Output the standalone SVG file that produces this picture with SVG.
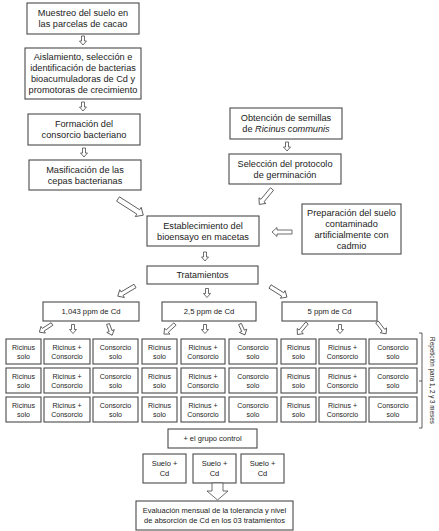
<svg xmlns="http://www.w3.org/2000/svg" xmlns:xlink="http://www.w3.org/1999/xlink" width="439" height="531" viewBox="0 0 439 531">
<style>
.bx{fill:#fff;stroke:#4a4a4a;stroke-width:1.1}
.t{font-family:"Liberation Sans",Arial,sans-serif;fill:#222;text-anchor:middle}
.m{font-size:9.2px}
.s{font-size:7px}
.p{font-size:7.7px}
.c{font-size:7.5px}
.ar{fill:#fff;stroke:#4a4a4a;stroke-width:0.8;stroke-linejoin:miter}
</style>
<defs>
<polygon id="a9" class="ar" points="0,-1.5 5,-1.5 5,-3.5 9,0 5,3.5 5,1.5 0,1.5"/>
<polygon id="a12" class="ar" points="0,-1.5 7.5,-1.5 7.5,-4 12,0 7.5,4 7.5,1.5 0,1.5"/>
<polygon id="a15" class="ar" points="0,-1.6 10.5,-1.6 10.5,-4 15,0 10.5,4 10.5,1.6 0,1.6"/>
<polygon id="a20" class="ar" points="0,-2 15,-2 15,-4.5 20,0 15,4.5 15,2 0,2"/>
<polygon id="a30" class="ar" points="0,-2.6 24,-2.6 24,-5.5 30,0 24,5.5 24,2.6 0,2.6"/>
</defs>

<g id="n1"><rect class="bx" x="27" y="3" width="112" height="31"/>
<text class="t m" x="83" y="16.2">Muestreo del suelo en</text><text class="t m" x="83" y="27.2">las parcelas de cacao</text></g>
<g id="n2"><rect class="bx" x="25" y="48" width="116" height="51"/>
<text class="t m" x="83" y="60.2">Aislamiento, selección e</text><text class="t m" x="83" y="71.2">identificación de bacterias</text><text class="t m" x="83" y="82.2">bioacumuladoras de Cd y</text><text class="t m" x="83" y="93.2">promotoras de crecimiento</text></g>
<g id="n3"><rect class="bx" x="28" y="114" width="112" height="31"/>
<text class="t m" x="84" y="127.2">Formación del</text><text class="t m" x="84" y="138.2">consorcio bacteriano</text></g>
<g id="n4"><rect class="bx" x="29" y="160" width="112" height="30"/>
<text class="t m" x="85" y="172.7">Masificación de las</text><text class="t m" x="85" y="183.7">cepas bacterianas</text></g>
<g id="n5"><rect class="bx" x="230" y="108" width="112" height="31"/>
<text class="t m" x="286" y="121.2">Obtención de semillas</text><text class="t m" x="286" y="132.2">de <tspan font-style="italic">Ricinus communis</tspan></text></g>
<g id="n6"><rect class="bx" x="229" y="154" width="112" height="30"/>
<text class="t m" x="285" y="166.7">Selección del protocolo</text><text class="t m" x="285" y="177.7">de germinación</text></g>
<g id="n7"><rect class="bx" x="147" y="216" width="112" height="30"/>
<text class="t m" x="203" y="228.7">Establecimiento del</text><text class="t m" x="203" y="239.7">bioensayo en macetas</text></g>
<g id="n8"><rect class="bx" x="302" y="204" width="99" height="50"/>
<text class="t m" x="351.5" y="215.7">Preparación del suelo</text><text class="t m" x="351.5" y="226.7">contaminado</text><text class="t m" x="351.5" y="237.7">artificialmente con</text><text class="t m" x="351.5" y="248.7">cadmio</text></g>
<g id="n9"><rect class="bx" x="147" y="266" width="111" height="18"/>
<text class="t" font-size="9" x="202.5" y="278.2">Tratamientos</text></g>
<g id="p1"><rect class="bx" x="43" y="302" width="96" height="19"/><text class="t p" x="91" y="314.2">1,043 ppm de Cd</text></g>
<g id="p2"><rect class="bx" x="162" y="302" width="94" height="19"/><text class="t p" x="209" y="314.2">2,5 ppm de Cd</text></g>
<g id="p3"><rect class="bx" x="282" y="302" width="95" height="19"/><text class="t p" x="329.5" y="314.2">5 ppm de Cd</text></g>

<g id="grid">
<g id="r1">
<rect class="bx" x="6" y="339" width="35" height="25"/><text class="t s" x="23.5" y="349.5">Ricinus</text><text class="t s" x="23.5" y="358.5">solo</text>
<rect class="bx" x="44" y="339" width="46" height="25"/><text class="t s" x="67" y="349.5">Ricinus +</text><text class="t s" x="67" y="358.5">Consorcio</text>
<rect class="bx" x="93" y="339" width="45" height="25"/><text class="t s" x="115.5" y="349.5">Consorcio</text><text class="t s" x="115.5" y="358.5">solo</text>
<rect class="bx" x="142" y="339" width="35" height="25"/><text class="t s" x="159.5" y="349.5">Ricinus</text><text class="t s" x="159.5" y="358.5">solo</text>
<rect class="bx" x="181" y="339" width="44" height="25"/><text class="t s" x="203" y="349.5">Ricinus +</text><text class="t s" x="203" y="358.5">Consorcio</text>
<rect class="bx" x="229" y="339" width="48" height="25"/><text class="t s" x="253" y="349.5">Consorcio</text><text class="t s" x="253" y="358.5">solo</text>
<rect class="bx" x="281" y="339" width="35" height="25"/><text class="t s" x="298.5" y="349.5">Ricinus</text><text class="t s" x="298.5" y="358.5">solo</text>
<rect class="bx" x="319" y="339" width="47" height="25"/><text class="t s" x="342.5" y="349.5">Ricinus +</text><text class="t s" x="342.5" y="358.5">Consorcio</text>
<rect class="bx" x="369" y="339" width="48" height="25"/><text class="t s" x="393" y="349.5">Consorcio</text><text class="t s" x="393" y="358.5">solo</text>
</g>
<g id="r2">
<rect class="bx" x="6" y="368" width="35" height="25"/><text class="t s" x="23.5" y="378.5">Ricinus</text><text class="t s" x="23.5" y="387.5">solo</text>
<rect class="bx" x="44" y="368" width="46" height="25"/><text class="t s" x="67" y="378.5">Ricinus +</text><text class="t s" x="67" y="387.5">Consorcio</text>
<rect class="bx" x="93" y="368" width="45" height="25"/><text class="t s" x="115.5" y="378.5">Consorcio</text><text class="t s" x="115.5" y="387.5">solo</text>
<rect class="bx" x="142" y="368" width="35" height="25"/><text class="t s" x="159.5" y="378.5">Ricinus</text><text class="t s" x="159.5" y="387.5">solo</text>
<rect class="bx" x="181" y="368" width="44" height="25"/><text class="t s" x="203" y="378.5">Ricinus +</text><text class="t s" x="203" y="387.5">Consorcio</text>
<rect class="bx" x="229" y="368" width="48" height="25"/><text class="t s" x="253" y="378.5">Consorcio</text><text class="t s" x="253" y="387.5">solo</text>
<rect class="bx" x="281" y="368" width="35" height="25"/><text class="t s" x="298.5" y="378.5">Ricinus</text><text class="t s" x="298.5" y="387.5">solo</text>
<rect class="bx" x="319" y="368" width="47" height="25"/><text class="t s" x="342.5" y="378.5">Ricinus +</text><text class="t s" x="342.5" y="387.5">Consorcio</text>
<rect class="bx" x="369" y="368" width="48" height="25"/><text class="t s" x="393" y="378.5">Consorcio</text><text class="t s" x="393" y="387.5">solo</text>
</g>
<g id="r3">
<rect class="bx" x="6" y="397" width="35" height="25"/><text class="t s" x="23.5" y="407.5">Ricinus</text><text class="t s" x="23.5" y="416.5">solo</text>
<rect class="bx" x="44" y="397" width="46" height="25"/><text class="t s" x="67" y="407.5">Ricinus +</text><text class="t s" x="67" y="416.5">Consorcio</text>
<rect class="bx" x="93" y="397" width="45" height="25"/><text class="t s" x="115.5" y="407.5">Consorcio</text><text class="t s" x="115.5" y="416.5">solo</text>
<rect class="bx" x="142" y="397" width="35" height="25"/><text class="t s" x="159.5" y="407.5">Ricinus</text><text class="t s" x="159.5" y="416.5">solo</text>
<rect class="bx" x="181" y="397" width="44" height="25"/><text class="t s" x="203" y="407.5">Ricinus +</text><text class="t s" x="203" y="416.5">Consorcio</text>
<rect class="bx" x="229" y="397" width="48" height="25"/><text class="t s" x="253" y="407.5">Consorcio</text><text class="t s" x="253" y="416.5">solo</text>
<rect class="bx" x="281" y="397" width="35" height="25"/><text class="t s" x="298.5" y="407.5">Ricinus</text><text class="t s" x="298.5" y="416.5">solo</text>
<rect class="bx" x="319" y="397" width="47" height="25"/><text class="t s" x="342.5" y="407.5">Ricinus +</text><text class="t s" x="342.5" y="416.5">Consorcio</text>
<rect class="bx" x="369" y="397" width="48" height="25"/><text class="t s" x="393" y="407.5">Consorcio</text><text class="t s" x="393" y="416.5">solo</text>
</g>
</g>

<g id="rep">
<path d="M419,333 H422 V428 H419 M422,381 H419" fill="none" stroke="#4a4a4a" stroke-width="0.9"/>
<text class="t" font-size="6.3" transform="translate(430,380.5) rotate(90)">Repetición para 1, 2 y 3 meses</text>
</g>

<g id="ctl"><rect class="bx" x="168" y="429" width="89" height="19"/><text class="t c" x="212.5" y="441.1">+ el grupo control</text></g>
<g id="s1"><rect class="bx" x="143" y="454" width="43" height="29"/><text class="t c" x="164.5" y="466.1">Suelo +</text><text class="t c" x="164.5" y="476.1">Cd</text></g>
<g id="s2"><rect class="bx" x="193" y="454" width="43" height="29"/><text class="t c" x="214.5" y="466.1">Suelo +</text><text class="t c" x="214.5" y="476.1">Cd</text></g>
<g id="s3"><rect class="bx" x="241" y="454" width="43" height="29"/><text class="t c" x="262.5" y="466.1">Suelo +</text><text class="t c" x="262.5" y="476.1">Cd</text></g>
<g id="ev"><rect class="bx" x="136" y="501" width="157" height="29"/><text class="t c" x="214.5" y="513.1">Evaluación mensual de la tolerancia y nivel</text><text class="t c" x="214.5" y="523.1">de absorción de Cd en los 03 tratamientos</text></g>

<g id="connectors">
<use xlink:href="#a9" transform="translate(83,36) rotate(90)"/>
<use xlink:href="#a9" transform="translate(83,102) rotate(90)"/>
<use xlink:href="#a9" transform="translate(84,148) rotate(90)"/>
<use xlink:href="#a9" transform="translate(287,142) rotate(90)"/>
<use xlink:href="#a30" transform="translate(118,199) rotate(32.6)"/>
<use xlink:href="#a20" transform="translate(272,189) rotate(129.5)"/>
<use xlink:href="#a20" transform="translate(292,232) rotate(180)"/>
<use xlink:href="#a9" transform="translate(205,252) rotate(90)"/>
<use xlink:href="#a9" transform="translate(207,288.5) rotate(90)"/>
<use xlink:href="#a20" transform="translate(135,286) rotate(149.5)"/>
<use xlink:href="#a20" transform="translate(270,286.5) rotate(32)"/>
<use xlink:href="#a15" transform="translate(52,324) rotate(147)"/>
<use xlink:href="#a9" transform="translate(73,324.5) rotate(90)"/>
<use xlink:href="#a12" transform="translate(108,324) rotate(70)"/>
<use xlink:href="#a15" transform="translate(175,324) rotate(137.5)"/>
<use xlink:href="#a9" transform="translate(205,324.5) rotate(90)"/>
<use xlink:href="#a12" transform="translate(240,324) rotate(65.6)"/>
<use xlink:href="#a15" transform="translate(307,323) rotate(129.8)"/>
<use xlink:href="#a9" transform="translate(340,324.5) rotate(90)"/>
<use xlink:href="#a15" transform="translate(377,322) rotate(52.4)"/>
<polygon class="ar" points="212,483 223,483 223,491 228,491 217.5,500 207,491 212,491"/>
</g>
</svg>
